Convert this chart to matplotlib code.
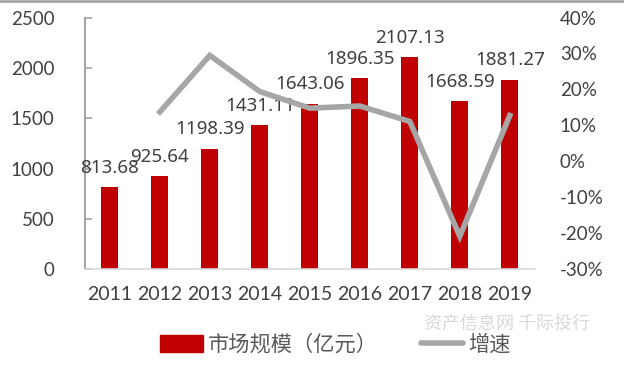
import matplotlib.pyplot as plt
from matplotlib.lines import Line2D

plt.rcParams['font.family'] = ['Lato', 'Noto Sans CJK SC', 'DejaVu Sans']

# 数据
years = ['2011', '2012', '2013', '2014', '2015', '2016', '2017', '2018', '2019']
market_size = [813.68, 925.64, 1198.39, 1431.11, 1643.06, 1896.35, 2107.13, 1668.59, 1881.27]
growth_years = ['2012', '2013', '2014', '2015', '2016', '2017', '2018', '2019']
growth = [13.76, 29.47, 19.42, 14.81, 15.41, 11.11, -20.81, 12.75]

text_color = '#404040'

fig = plt.figure(figsize=(6.24, 3.65), dpi=100)
ax = fig.add_axes([0.136, 0.262, 0.721, 0.69])
ax2 = ax.twinx()

x = list(range(len(years)))
ax.bar(x, market_size, width=0.34, color='#C00000', zorder=2)
for xi, v in zip(x, market_size):
    ax.annotate(f'{v:.2f}', (xi, v), xytext=(0, 7.5), textcoords='offset points',
                ha='center', va='bottom', fontsize=13.5, color=text_color,
                family=['Noto Sans'])

gx = [years.index(y) for y in growth_years]
ax2.plot(gx, growth, color='#A6A6A6', linewidth=4, solid_joinstyle='miter', zorder=3)

# 左轴
ax.set_xlim(-0.5, len(years) - 0.5)
ax.set_ylim(0, 2500)
ax.set_yticks(range(0, 2501, 500))
ax.set_xticks(x)
ax.set_xticklabels(years)
ax.tick_params(axis='y', direction='in', length=5, width=1.2, color='#A6A6A6',
               labelsize=13.5, labelcolor=text_color, pad=22)
ax.tick_params(axis='x', length=0, labelsize=14, labelcolor=text_color, pad=12)
for s in ['top', 'right']:
    ax.spines[s].set_visible(False)
ax.spines['left'].set_color('#A6A6A6')
ax.spines['left'].set_linewidth(1.5)
ax.spines['bottom'].set_color('#D9D9D9')
ax.spines['bottom'].set_linewidth(1.2)

# 右轴
ax2.set_ylim(-30, 40)
ax2.set_yticks(range(-30, 41, 10))
ax2.set_yticklabels([f'{t}%' for t in range(-30, 41, 10)])
ax2.tick_params(axis='y', length=0, labelsize=13.5, labelcolor=text_color, pad=18)
for s in ['top', 'right', 'left', 'bottom']:
    ax2.spines[s].set_visible(False)

# 图例
handles = [plt.Rectangle((0, 0), 1, 1, color='#C00000'),
           Line2D([0], [0], color='#A6A6A6', linewidth=4, solid_capstyle='round')]
fig.legend(handles, ['市场规模（亿元）', '增速'], loc='center', bbox_to_anchor=(0.538, 0.055),
           ncol=2, frameon=False, handlelength=2.0, handleheight=0.8,
           columnspacing=2.0, handletextpad=0.25, labelcolor='#595959',
           prop={'family': ['Noto Sans CJK SC'], 'size': 15.3})

# 水印
fig.text(0.813, 0.11, '资产信息网 千际投行', ha='center', va='center', fontsize=13,
         color='#D9D9D9', family=['Noto Sans CJK SC'])

# 顶部灰线
fig.add_artist(Line2D([0, 1], [0.998, 0.998], transform=fig.transFigure,
                      color='#A6A6A6', linewidth=2))

fig.savefig('out.png', dpi=100)
